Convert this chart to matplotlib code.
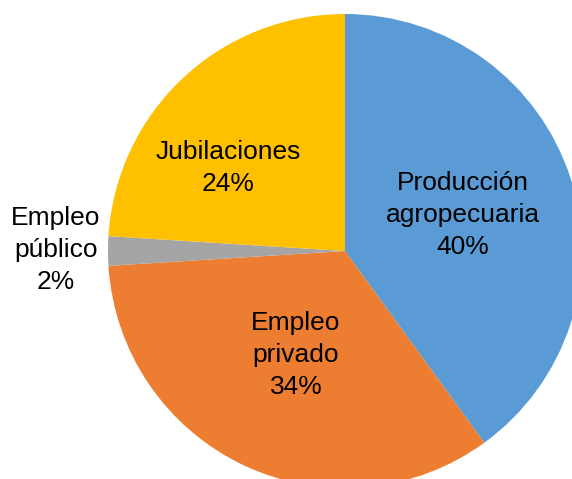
import numpy as np
import matplotlib.pyplot as plt
plt.rcParams["font.family"] = "Liberation Sans"

labels = ["Producción\nagropecuaria", "Empleo\nprivado", "Empleo\npúblico", "Jubilaciones"]
shares = [40, 34, 2, 24]
colors = ["#5B9BD5", "#ED7D31", "#A5A5A5", "#FFC000"]

# label centres in pixels of the 572x479 image
label_px = [(463, 215), (296, 355), (56, 250), (228, 168)]

cx, cy, r = 345, 251, 237
W, H = 572, 479

fig = plt.figure(figsize=(W / 100, H / 100), dpi=100)
ax = fig.add_axes([0, 0, 1, 1])
ax.pie(shares, colors=colors, startangle=90, counterclock=False,
       radius=1, center=(0, 0), wedgeprops=dict(linewidth=0))
ax.set_xlim(-cx / r, (W - cx) / r)
ax.set_ylim(-(H - cy) / r, cy / r)
ax.set_aspect("equal")
ax.axis("off")

for lab, val, (px, py) in zip(labels, shares, label_px):
    ax.text((px - cx) / r, (cy - py) / r, f"{lab}\n{val}%",
            ha="center", va="center", fontsize=19, linespacing=1.4,
            color="black")

plt.savefig("out.png", dpi=100)
